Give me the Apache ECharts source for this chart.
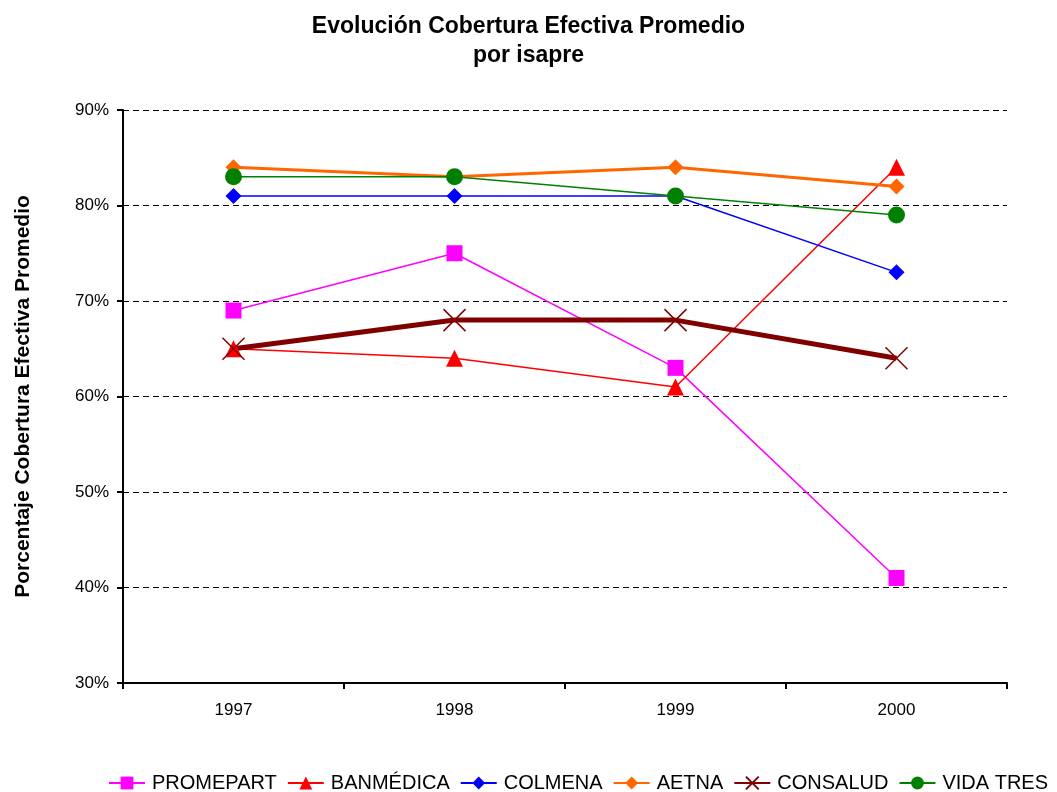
<!DOCTYPE html>
<html><head><meta charset="utf-8">
<script src="https://cdn.jsdelivr.net/npm/echarts@6/dist/echarts.min.js"></script>
<style>html,body{margin:0;padding:0;background:#fff}#c{width:1057px;height:792px}</style>
</head><body><div id="c"></div>
<script>
var years = ['1997','1998','1999','2000'];
var promepart = [69,75,63,41];
var banmedica = [65,64,61,84];
var colmena = [81,81,81,73];
var aetna = [84,83,84,82];
var consalud = [65,68,68,64];
var vidatres = [83,83,81,79];

var FONT = '"Liberation Sans", Arial, sans-serif';
function mk(name, data, color, width, symbol, size, extra) {
  var s = {
    name: name, type: 'line', data: data, symbol: symbol, symbolSize: size,
    lineStyle: {color: color, width: width},
    itemStyle: {color: color},
    animation: false
  };
  if (extra) Object.assign(s, extra);
  return s;
}
var chart = echarts.init(document.getElementById('c'));
chart.setOption({
  animation: false,
  title: {
    text: 'Evolución Cobertura Efectiva Promedio\npor isapre',
    left: 'center', top: 7,
    textStyle: {fontFamily: FONT, fontSize: 23, fontWeight: 'bold', color: '#000', lineHeight: 29}
  },
  legend: {
    top: 768, left: 103, itemWidth: 36, itemHeight: 16, itemGap: 10,
    textStyle: {fontFamily: FONT, fontSize: 20, color: '#000', padding: [0, 0, 0, 2]},
    data: ['PROMEPART','BANMÉDICA','COLMENA','AETNA','CONSALUD','VIDA TRES']
  },
  grid: {left: 123, right: 50, top: 110, bottom: 109},
  xAxis: {
    type: 'category', data: years, boundaryGap: true,
    axisLine: {lineStyle: {color: '#000', width: 2}},
    axisTick: {show: true, length: 6, lineStyle: {color: '#000', width: 2}},
    axisLabel: {fontFamily: FONT, fontSize: 17, color: '#000', margin: 19}
  },
  yAxis: {
    type: 'value', min: 30, max: 90, interval: 10,
    name: 'Porcentaje Cobertura Efectiva Promedio', nameLocation: 'middle', nameGap: 89,
    nameTextStyle: {fontFamily: FONT, fontSize: 21, fontWeight: 'bold', color: '#000'},
    axisLine: {show: true, lineStyle: {color: '#000', width: 2}},
    axisTick: {show: true, length: 6, lineStyle: {color: '#000', width: 2}},
    axisLabel: {fontFamily: FONT, fontSize: 17, color: '#000', margin: 14, formatter: '{value}%'},
    splitLine: {show: true, lineStyle: {color: '#000', type: [6, 4], width: 1}}
  },
  series: [
    mk('PROMEPART', promepart, '#FF00FF', 1.5, 'rect', 16),
    mk('BANMÉDICA', banmedica, '#FF0000', 1.5, 'triangle', 17),
    mk('COLMENA', colmena, '#0000FF', 1.5, 'diamond', 16),
    mk('AETNA', aetna, '#FF6600', 3, 'diamond', 16),
    mk('CONSALUD', consalud, '#800000', 5, 'path://M0,0L10,10M10,0L0,10', 22,
       {itemStyle: {color: '#800000', borderColor: '#800000', borderWidth: 1.5}}),
    mk('VIDA TRES', vidatres, '#008000', 1.5, 'circle', 17)
  ]
});
</script></body></html>
